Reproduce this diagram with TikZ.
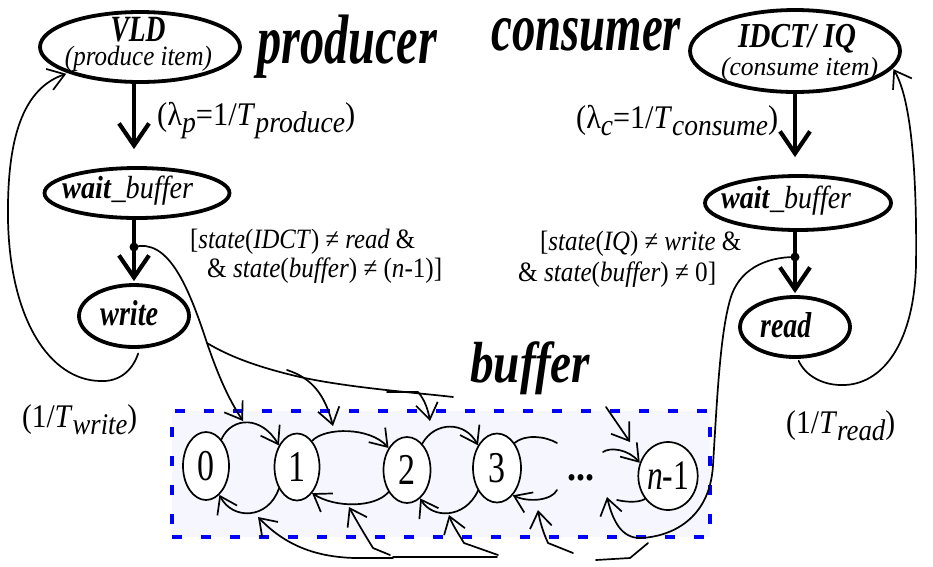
\documentclass[tikz,border=0pt]{standalone}
\usepackage{fontspec}
\setmainfont{Liberation Serif}
\usepackage{graphicx}
\usetikzlibrary{arrows.meta,shapes.geometric}

\definecolor{dashblue}{RGB}{0,0,255}
\definecolor{buffill}{RGB}{246,247,254}

% font size in points
\newcommand{\setfs}[1]{\fontsize{#1pt}{#1pt}\selectfont}
% squeeze a text to a given width, keeping its height
\newcommand{\fitw}[2]{\resizebox{#1}{\height}{#2}}
% lowered italic subscript
\newcommand{\lsub}[2]{\raisebox{-7pt}{\setfs{#1}\itshape #2}}

\begin{document}
\begin{tikzpicture}[x=1pt,y=-1pt,
  statenode/.style={ellipse, draw, line width=3.8pt, inner sep=0pt},
  cellnode/.style={ellipse, draw, line width=1.7pt, fill=white, inner sep=0pt},
  lbl/.style={inner sep=0pt, anchor=base west},
  lblc/.style={inner sep=0pt, anchor=base},
  wire/.style={line width=1.7pt, line cap=round, line join=round},
  warr/.style={wire, -{Straight Barb[length=16pt,width=22pt]}},
  bigarr/.style={line width=4.2pt, -{Straight Barb[length=22pt,width=30pt]}},
]
\useasboundingbox (0,0) rectangle (933,566);

% ---------- buffer area ----------
\node[draw=dashblue, fill=buffill, line width=3.5pt, dash pattern=on 10pt off 19pt,
      minimum width=538pt, minimum height=126pt, inner sep=0pt] (buf) at (441,474) {};

% ---------- state nodes ----------
\node[statenode, minimum width=200pt, minimum height=70pt] (vld) at (140,47) {};
\node[statenode, minimum width=210pt, minimum height=82pt] (idct) at (795,51) {};
\node[statenode, minimum width=185pt, minimum height=50pt] (waitL) at (137,193) {};
\node[statenode, minimum width=186pt, minimum height=54pt] (waitR) at (798,203) {};
\node[statenode, minimum width=110pt, minimum height=62pt] (write) at (134,316) {};
\node[statenode, minimum width=110pt, minimum height=60pt] (read) at (795,327) {};

% ---------- texts of the states ----------
\node[lblc] (vldname) at (138,41) {\setfs{37}\bfseries\itshape\fitw{55pt}{VLD}};
\node[lblc] (vldsub) at (138.5,65) {\setfs{28}\itshape\fitw{147pt}{(produce item)}};
\node[lblc] (idctname) at (797,47) {\setfs{35}\bfseries\itshape\fitw{118pt}{IDCT/ IQ}};
\node[lblc] (idctsub) at (799.5,75) {\setfs{26}\itshape\fitw{157pt}{(consume item)}};
\node[lbl] (waitLt) at (62,198) {\setfs{32}\fitw{131pt}{\textbf{\textit{wait}}\textit{\_buffer}}};
\node[lbl] (waitRt) at (721,208) {\setfs{32}\fitw{130pt}{\textbf{\textit{wait}}\textit{\_buffer}}};
\node[lbl] (writet) at (100,325) {\setfs{36}\bfseries\itshape\fitw{58pt}{write}};
\node[lbl] (readt) at (760,337) {\setfs{36}\bfseries\itshape\fitw{51pt}{read}};

% ---------- titles ----------
\node[lbl] (prodt) at (257,63) {\setfs{70}\bfseries\itshape\fitw{180pt}{producer}};
\node[lbl] (const) at (491,50) {\setfs{68}\bfseries\itshape\fitw{190pt}{consumer}};
\node[lbl] (buft) at (470,382) {\setfs{58}\bfseries\itshape\fitw{120pt}{buffer}};

% ---------- rates and guards ----------
\node[lbl] (ratep) at (157,125) {\setfs{33}\fitw{198pt}{(λ\lsub{30}{p}=1/\textit{T}\lsub{30}{produce})}};
\node[lbl] (ratec) at (576,128) {\setfs{33}\fitw{202pt}{(λ\lsub{30}{c}=1/\textit{T}\lsub{30}{consume})}};
\node[lbl] (guardL1) at (190,248) {\setfs{28}\fitw{225pt}{[\textit{state}(\textit{IDCT}) ≠ \textit{read} \&}};
\node[lbl] (guardL2) at (207,277) {\setfs{28}\fitw{235pt}{\& \textit{state}(\textit{buffer}) ≠ (\textit{n}-1)]}};
\node[lbl] (guardR1) at (540,250) {\setfs{28}\fitw{201pt}{[\textit{state}(\textit{IQ}) ≠ \textit{write} \&}};
\node[lbl] (guardR2) at (518,281) {\setfs{28}\fitw{198pt}{\& \textit{state}(\textit{buffer}) ≠ 0]}};
\node[lbl] (ratew) at (22,427) {\setfs{33}\fitw{115pt}{(1/\textit{T}\lsub{30}{write})}};
\node[lbl] (rater) at (786,433) {\setfs{33}\fitw{109pt}{(1/\textit{T}\lsub{30}{read})}};

% ---------- main arrows ----------
\draw[bigarr, shorten >=17pt] (vld.south -| write.north) -- (waitL.north -| write.north);
\draw[bigarr, shorten >=2pt] (waitL.south -| write.north) -- (write.north);
\draw[bigarr, shorten >=17pt] (idct.south -| read.north) -- (waitR.north -| read.north);
\draw[bigarr, shorten >=2pt] (waitR.south -| read.north) -- (read.north);
\coordinate (dotL) at (134,247);
\coordinate (dotR) at (795,257);
\fill (dotL) circle[radius=4.5pt];
\fill (dotR) circle[radius=4.5pt];

% ---------- return loops ----------
\draw[warr, shorten <=5pt, shorten >=2pt] (write.280) .. controls (132,372) and (118,382) .. (100,381)
   .. controls (50,380) and (10,320) .. (8,220) .. controls (7,150) and (18,90) .. (vld.200);
\draw[warr, shorten <=2pt, shorten >=1pt] (read.275) .. controls (805,375) and (822,386) .. (845,385)
   .. controls (885,383) and (914,340) .. (916,265) .. controls (917,180) and (912,100) .. (idct.-10);

% ---------- buffer cells ----------
\node[cellnode, minimum width=46pt, minimum height=68pt] (s0) at (206,466) {\setfs{44}\fitw{17pt}{0}};
\node[cellnode, minimum width=45pt, minimum height=67pt] (s1) at (297,467) {\setfs{44}\fitw{17pt}{1}};
\node[cellnode, minimum width=47pt, minimum height=66pt] (s2) at (407,470) {\setfs{44}\fitw{17pt}{2}};
\node[cellnode, minimum width=48pt, minimum height=69pt] (s3) at (497,468) {\setfs{44}\fitw{17pt}{3}};
\node[cellnode, minimum width=50pt, minimum height=68pt] (sn) at (668,476) {\setfs{42}\fitw{42pt}{\textit{n}-1}};
\node[inner sep=0pt] (dots) at (581,478) {\setfs{40}\bfseries\fitw{27pt}{...}};

% free ends of the transitions around the dots
\coordinate (u3e) at (557,443);
\coordinate (uns) at (603,452);
\coordinate (l3s) at (557,490);
\coordinate (lne) at (617,500);

% upper transitions k -> k+1
\draw[warr] (s0.60) .. controls (232,416) and (262,416) .. (s1.130);
\draw[warr] (s1.60) .. controls (325,427) and (370,427) .. (s2.130);
\draw[warr] (s2.60) .. controls (435,421) and (465,421) .. (s3.130);
\draw[wire] (s3.55) .. controls (525,434) and (545,436) .. (u3e);
\draw[warr] (uns) .. controls (610,447) and (628,449) .. (sn.155);

% lower transitions k+1 -> k
\draw[warr] (s1.230) .. controls (268,520) and (232,520) .. (s0.295);
\draw[warr] (s2.230) .. controls (375,508) and (335,508) .. (s1.300);
\draw[warr] (s3.230) .. controls (465,519) and (432,519) .. (s2.295);
\draw[warr] (l3s) .. controls (552,500) and (530,503) .. (s3.300);
\draw[wire] (sn.225) .. controls (638,503) and (626,502) .. (lne);

% ---------- producer write fan ----------
\coordinate (fL) at (207,343);
\coordinate (t01) at (243,421);
\coordinate (t12) at (333,426);
\coordinate (t23) at (430,421);
\coordinate (t3n) at (630,442);
\coordinate (fA) at (453,397);
\coordinate (fB) at (287,370);
\coordinate (fC) at (387,392);
\coordinate (fD) at (606,407);
\draw[warr] (dotL) .. controls (168,238) and (188,285) .. (fL) .. controls (218,375) and (228,398) .. (t01);
\draw[wire] (fL) .. controls (235,360) and (270,370) .. (300,377) .. controls (350,388) and (420,393) .. (fA);
\draw[warr] (fB) .. controls (312,378) and (325,395) .. (t12);
\draw[warr] (fC) -- (418,392) .. controls (425,400) and (428,410) .. (t23);
\draw[warr] (fD) -- (t3n);

% ---------- consumer read fan ----------
\coordinate (b10) at (258,517);
\coordinate (b21) at (349,507);
\coordinate (b32) at (449,515);
\coordinate (b3) at (538,510);
\coordinate (bn) at (607,497);
\draw[warr] (dotR) .. controls (765,257) and (738,270) .. (730,300) .. controls (720,335) and (717,400) .. (713,465)
   .. controls (710,520) and (670,537) .. (640,538) .. controls (622,538) and (613,522) .. (bn);
\coordinate (c1) at (648,543);
\coordinate (c2) at (573,553);
\coordinate (c3) at (498,555);
\coordinate (c4) at (497,557);
\coordinate (c5) at (390,555);
\coordinate (c6) at (393,558);
\draw[wire] (c1) -- (630,558) -- (596,560);
\draw[warr] (c2) -- (548,543) .. controls (543,532) and (540,522) .. (b3);
\draw[warr] (c3) -- (464,543) .. controls (458,533) and (452,524) .. (b32);
\draw[wire] (c4) -- (393,557);
\draw[warr] (c5) -- (373,548) .. controls (365,535) and (356,520) .. (b21);
\draw[warr] (c6) -- (355,558) .. controls (315,557) and (285,545) .. (b10);
\end{tikzpicture}
\end{document}
